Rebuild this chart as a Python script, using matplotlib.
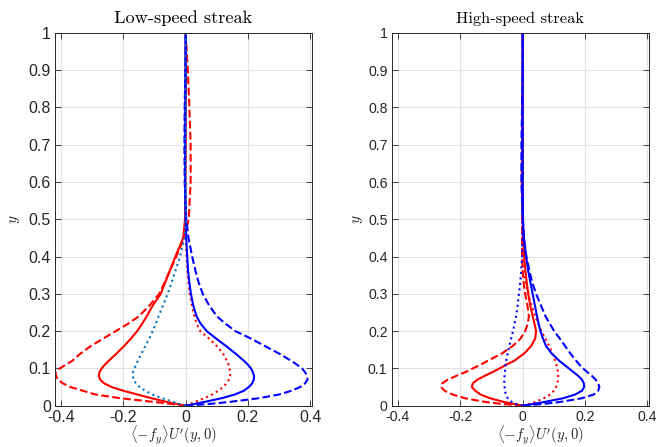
import matplotlib
matplotlib.use("Agg")
import matplotlib.pyplot as plt

plt.rcParams["mathtext.fontset"] = "cm"

# y stations shared by every profile
Y = [0, 0.005, 0.01, 0.02, 0.03, 0.04, 0.05, 0.06, 0.07, 0.08, 0.09, 0.10,
     0.11, 0.12, 0.14, 0.16, 0.18, 0.20, 0.22, 0.24, 0.27, 0.30, 0.33, 0.36,
     0.40, 0.45, 0.50, 0.60, 0.70, 0.80, 0.90, 1.00]

# low-speed streak
low_red_solid = [0, -0.03, -0.06, -0.11, -0.155, -0.2, -0.238, -0.262, -0.275,
                 -0.279, -0.277, -0.27, -0.26, -0.248, -0.222, -0.198, -0.176,
                 -0.156, -0.14, -0.125, -0.105, -0.08, -0.066, -0.052, -0.033,
                 -0.008, -0.002, -0.001, 0, 0, 0, 0]
low_red_dash = [0, -0.05, -0.1, -0.21, -0.29, -0.33, -0.37, -0.395, -0.41,
                -0.417, -0.418, -0.405, -0.385, -0.365, -0.338, -0.305, -0.265,
                -0.225, -0.185, -0.15, -0.115, -0.085, -0.068, -0.052, -0.03,
                -0.005, 0.01, 0.016, 0.016, 0.012, 0.007, 0]
low_red_dot = [0, 0.015, 0.03, 0.06, 0.085, 0.105, 0.12, 0.132, 0.139, 0.143,
               0.143, 0.141, 0.138, 0.133, 0.12, 0.1, 0.075, 0.047, 0.035,
               0.028, 0.02, 0.013, 0.009, 0.006, 0.003, 0, 0, 0, 0, 0, 0, 0]
low_blue_solid = [0, 0.03, 0.06, 0.115, 0.158, 0.187, 0.203, 0.214, 0.219,
                  0.22, 0.216, 0.21, 0.2, 0.188, 0.16, 0.13, 0.098, 0.068,
                  0.048, 0.035, 0.024, 0.017, 0.012, 0.008, 0.005, 0.002, 0,
                  -0.002, -0.002, -0.001, 0, 0]
low_blue_dash = [0, 0.08, 0.14, 0.235, 0.3, 0.34, 0.368, 0.384, 0.392, 0.39,
                 0.384, 0.374, 0.358, 0.34, 0.3, 0.255, 0.21, 0.16, 0.128, 0.1,
                 0.075, 0.055, 0.042, 0.032, 0.021, 0.009, 0.002, -0.003,
                 -0.004, -0.003, -0.001, 0]
low_cyan_dot = [0, -0.02, -0.04, -0.075, -0.107, -0.13, -0.148, -0.16, -0.167,
                -0.17, -0.169, -0.165, -0.159, -0.154, -0.142, -0.13, -0.117,
                -0.106, -0.096, -0.087, -0.072, -0.058, -0.045, -0.034, -0.018,
                -0.004, 0, 0, 0, 0, 0, 0]

# high-speed streak
high_red_solid = [0, -0.03, -0.06, -0.105, -0.135, -0.152, -0.163, -0.16,
                  -0.145, -0.122, -0.097, -0.074, -0.053, -0.028, 0.005, 0.027,
                  0.04, 0.043, 0.038, 0.032, 0.024, 0.018, 0.013, 0.009, 0.005,
                  0.002, 0, -0.003, -0.002, -0.001, 0, 0]
high_red_dash = [0, -0.07, -0.12, -0.185, -0.225, -0.25, -0.262, -0.258, -0.24,
                 -0.213, -0.184, -0.16, -0.135, -0.113, -0.067, -0.032, -0.007,
                 0.008, 0.016, 0.02, 0.015, 0.008, 0.003, 0, -0.002, -0.002,
                 -0.001, 0, 0, 0, 0, 0]
high_red_dot = [0, 0.02, 0.04, 0.068, 0.088, 0.1, 0.107, 0.111, 0.113, 0.114,
                0.113, 0.111, 0.108, 0.104, 0.096, 0.085, 0.073, 0.06, 0.05,
                0.04, 0.028, 0.017, 0.01, 0.005, 0.002, 0, 0, 0, 0, 0, 0, 0]
high_blue_solid = [0, 0.035, 0.07, 0.13, 0.168, 0.19, 0.197, 0.196, 0.19,
                   0.178, 0.163, 0.148, 0.133, 0.118, 0.093, 0.075, 0.065,
                   0.057, 0.051, 0.046, 0.039, 0.032, 0.025, 0.018, 0.011,
                   0.004, 0.001, 0, 0, 0, 0, 0]
high_blue_dash = [0, 0.07, 0.12, 0.19, 0.228, 0.242, 0.246, 0.242, 0.234,
                  0.222, 0.207, 0.194, 0.182, 0.172, 0.153, 0.136, 0.119, 0.101,
                  0.087, 0.073, 0.058, 0.043, 0.031, 0.022, 0.012, 0.004, 0,
                  -0.004, -0.004, -0.002, 0, 0]
high_blue_dot = [0, -0.025, -0.035, -0.048, -0.054, -0.057, -0.058, -0.059,
                 -0.059, -0.058, -0.057, -0.056, -0.055, -0.053, -0.048, -0.043,
                 -0.037, -0.031, -0.026, -0.021, -0.016, -0.012, -0.008, -0.005,
                 -0.002, -0.001, 0, 0, 0, 0, 0, 0]

xticks = [-0.4, -0.2, 0, 0.2, 0.4]
xtick_labels = ["-0.4", "-0.2", "0", "0.2", "0.4"]
yticks = [0, 0.1, 0.2, 0.3, 0.4, 0.5, 0.6, 0.7, 0.8, 0.9, 1.0]
ytick_labels = ["0", "0.1", "0.2", "0.3", "0.4", "0.5", "0.6", "0.7", "0.8",
                "0.9", "1"]

AX_COL = "#262626"
LW = 1.5

fig = plt.figure(figsize=(6.58, 4.47), dpi=100)
ax1 = fig.add_axes([0.0836, 0.0924, 0.390, 0.834])
ax2 = fig.add_axes([0.5953, 0.0924, 0.391, 0.834])

ax1.plot(low_red_solid, Y, "-", color="r", lw=LW)
ax1.plot(low_red_dash, Y, "--", color="r", lw=LW)
ax1.plot(low_red_dot, Y, ":", color="r", lw=LW)
ax1.plot(low_blue_solid, Y, "-", color="b", lw=LW)
ax1.plot(low_blue_dash, Y, "--", color="b", lw=LW)
ax1.plot(low_cyan_dot, Y, ":", color="#0072BD", lw=LW)

ax2.plot(high_red_solid, Y, "-", color="r", lw=LW)
ax2.plot(high_red_dash, Y, "--", color="r", lw=LW)
ax2.plot(high_red_dot, Y, ":", color="r", lw=LW)
ax2.plot(high_blue_solid, Y, "-", color="b", lw=LW)
ax2.plot(high_blue_dash, Y, "--", color="b", lw=LW)
ax2.plot(high_blue_dot, Y, ":", color="b", lw=LW)

# the two panels were exported at slightly different text scales
panels = [
    (ax1, "Low-speed streak", 13.2, 11.5, 0.46, -0.13),
    (ax2, "High-speed streak", 11.8, 10.2, 0.576, -0.105),
]
for ax, title, tsize, ksize, xlab_pos, ylab_pos in panels:
    ax.set_xlim(-0.42, 0.405)
    ax.set_ylim(0, 1)
    ax.set_xticks(xticks)
    ax.set_xticklabels(xtick_labels, family="Liberation Sans", fontsize=ksize,
                       color=AX_COL)
    ax.set_yticks(yticks)
    ax.set_yticklabels(ytick_labels, family="Liberation Sans", fontsize=ksize,
                       color=AX_COL)
    ax.grid(True, color="#e3e3e3", lw=0.8)
    ax.set_axisbelow(True)
    ax.tick_params(direction="in", length=4, width=0.6, color=AX_COL,
                   top=True, right=True, pad=3)
    for sp in ax.spines.values():
        sp.set_color(AX_COL)
        sp.set_linewidth(0.7)
    ax.set_title(title, family="cmr10", fontsize=tsize, pad=7)
    ax.set_xlabel(r"$\langle {-}f_y\rangle U'(y,0)$", fontsize=10.5,
                  color=AX_COL)
    ax.xaxis.set_label_coords(xlab_pos, -0.049)
    ax.set_ylabel(r"$y$", fontsize=11, color=AX_COL)
    ax.yaxis.set_label_coords(ylab_pos, 0.5)

fig.savefig("out.png", dpi=100)
